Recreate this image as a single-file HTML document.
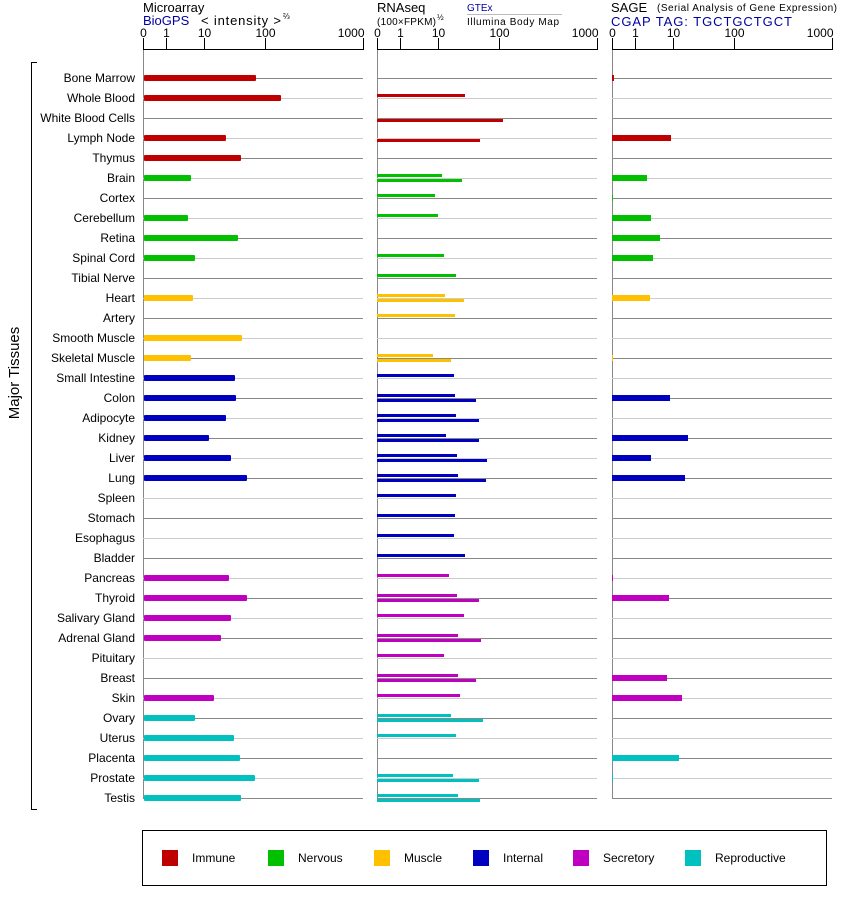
<!DOCTYPE html>
<html><head><meta charset="utf-8"><style>
html,body{margin:0;padding:0;background:#fff;}
svg{display:block;font-family:"Liberation Sans",Arial,sans-serif;}
</style></head><body>
<svg id="s" width="842" height="900" viewBox="0 0 842 900" xmlns="http://www.w3.org/2000/svg">
<g font-size="13" fill="#000">
<text x="143" y="12">Microarray</text>
<text x="143" y="25" fill="#0000a0">BioGPS</text>
<text x="201" y="25" font-size="13" textLength="80">&lt; intensity &gt;</text>
<text x="283" y="19" font-size="8">⅔</text>
<text x="377" y="12">RNAseq</text>
<text x="377" y="25" font-size="10" textLength="59">(100×FPKM)</text>
<text x="437" y="20" font-size="8">½</text>
<text x="467" y="11" font-size="10" fill="#0000a0">GTEx</text>
<line x1="467" y1="14.5" x2="562" y2="14.5" stroke="#bbb"/>
<text x="467" y="25" font-size="10" textLength="92">Illumina Body Map</text>
<text x="611" y="12">SAGE</text>
<text x="657" y="11" font-size="10" textLength="180">(Serial Analysis of Gene Expression)</text>
<text x="611" y="26" fill="#0000a0" textLength="181">CGAP TAG: TGCTGCTGCT</text>
</g>
<g id="axes" font-size="12"></g>
<g id="rows"></g>
<g font-size="12" text-anchor="end" id="labels">
<text x="135" y="82">Bone Marrow</text><text x="135" y="102">Whole Blood</text><text x="135" y="122">White Blood Cells</text><text x="135" y="142">Lymph Node</text><text x="135" y="162">Thymus</text><text x="135" y="182">Brain</text><text x="135" y="202">Cortex</text><text x="135" y="222">Cerebellum</text><text x="135" y="242">Retina</text><text x="135" y="262">Spinal Cord</text><text x="135" y="282">Tibial Nerve</text><text x="135" y="302">Heart</text><text x="135" y="322">Artery</text><text x="135" y="342">Smooth Muscle</text><text x="135" y="362">Skeletal Muscle</text><text x="135" y="382">Small Intestine</text><text x="135" y="402">Colon</text><text x="135" y="422">Adipocyte</text><text x="135" y="442">Kidney</text><text x="135" y="462">Liver</text><text x="135" y="482">Lung</text><text x="135" y="502">Spleen</text><text x="135" y="522">Stomach</text><text x="135" y="542">Esophagus</text><text x="135" y="562">Bladder</text><text x="135" y="582">Pancreas</text><text x="135" y="602">Thyroid</text><text x="135" y="622">Salivary Gland</text><text x="135" y="642">Adrenal Gland</text><text x="135" y="662">Pituitary</text><text x="135" y="682">Breast</text><text x="135" y="702">Skin</text><text x="135" y="722">Ovary</text><text x="135" y="742">Uterus</text><text x="135" y="762">Placenta</text><text x="135" y="782">Prostate</text><text x="135" y="802">Testis</text>
</g>
<path d="M37 62.5 H31.5 V809.5 H37" fill="none" stroke="#000"/>
<text x="0" y="0" font-size="15" transform="translate(19,373) rotate(-90)" text-anchor="middle">Major Tissues</text>
<rect x="142.5" y="830.5" width="684" height="55" fill="none" stroke="#000"/>
<g font-size="12">
<rect x="162" y="850" width="16" height="16" fill="#c00000"/><text x="192" y="862">Immune</text>
<rect x="268" y="850" width="16" height="16" fill="#00c000"/><text x="298" y="862">Nervous</text>
<rect x="374" y="850" width="16" height="16" fill="#ffc000"/><text x="404" y="862">Muscle</text>
<rect x="473" y="850" width="16" height="16" fill="#0000c0"/><text x="503" y="862">Internal</text>
<rect x="573" y="850" width="16" height="16" fill="#c000c0"/><text x="603" y="862">Secretory</text>
<rect x="685" y="850" width="16" height="16" fill="#00c0c0"/><text x="715" y="862">Reproductive</text>
</g>
</svg>
<script>
var NS="http://www.w3.org/2000/svg";
function el(p,t,a,txt){var e=document.createElementNS(NS,t);for(var k in a)e.setAttribute(k,a[k]);if(txt!=null)e.textContent=txt;document.getElementById(p).appendChild(e);return e;}
var panels=[143,377,612];var W=220;var fr=[0,0.105,0.277,0.555,1];var tl=["0","1","10","100","1000"];
panels.forEach(function(x0){
 el("axes","line",{x1:x0,y1:49.5,x2:x0+W,y2:49.5,stroke:"#000"});
 fr.forEach(function(f,i){var x=Math.round(x0+f*W)+0.5;el("axes","line",{x1:x,y1:38,x2:x,y2:50,stroke:"#000"});
  el("axes","text",{x:i==4?x+1:x,y:37,"text-anchor":i==4?"end":"middle"},tl[i]);});
 el("rows","line",{x1:x0+0.5,y1:50,x2:x0+0.5,y2:798,stroke:"#888"});
 for(var r=0;r<37;r++){var y=78+20*r+0.5;el("rows","line",{x1:x0,y1:y,x2:x0+W,y2:y,stroke:r%2?"#ccc":"#888"});}
});
var C={I:"#c00000",N:"#00c000",M:"#ffc000",T:"#0000c0",S:"#c000c0",R:"#00c0c0"};
var cat="IIIIINNNNNNMMMMTTTTTTTTTTSSSSSSSRRRRR";
var ma=[256,281,0,226,241,191,0,188,238,195,0,193,0,242,191,235,236,226,209,231,247,0,0,0,0,229,247,231,221,0,0,214,195,234,240,255,241];
var g=[0,465,0,0,0,442,435,438,0,444,456,445,455,0,433,454,455,456,446,457,458,456,455,454,465,449,457,464,458,444,458,460,451,456,0,453,458];
var il=[0,0,503,480,0,462,0,0,0,0,0,464,0,0,451,0,476,479,479,487,486,0,0,0,0,0,479,0,481,0,476,0,483,0,0,479,480];
var sg=[614,0,0,671,0,647,613,651,660,653,0,650,0,0,613,0,670,0,688,651,685,0,0,0,0,613,669,0,0,0,667,682,0,0,679,613,0];
for(var r=0;r<37;r++){var y=78+20*r,c=C[cat[r]];
 if(ma[r])el("rows","rect",{x:144,y:y-3,width:ma[r]-144,height:6,fill:c,rx:1});
 if(g[r])el("rows","rect",{x:377,y:y-4,width:g[r]-377,height:3,fill:c});
 if(il[r])el("rows","rect",{x:377,y:y+1,width:il[r]-377,height:3,fill:c});
 if(sg[r])el("rows","rect",{x:612,y:y-3,width:sg[r]-612,height:6,fill:c});
}
</script>
</body></html>
